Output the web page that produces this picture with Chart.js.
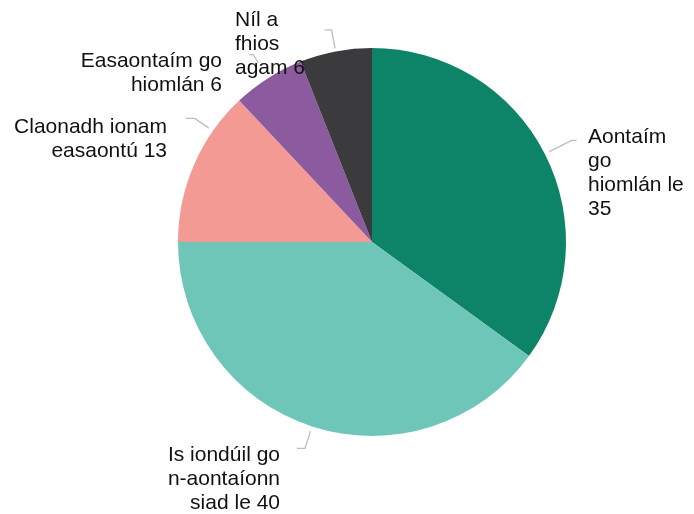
<!DOCTYPE HTML>
<html>
<head>
    <meta charset="utf-8">
    <script src="https://cdn.jsdelivr.net/npm/chart.js"></script>
    <style>
        body {
            margin: 0;
            background: white;
        }
        .chart-container {
            position: relative;
            width: 694px;
            height: 514px;
        }
    </style>
</head>
<body>
    <div class="chart-container">
        <canvas id="pieChart"></canvas>
    </div>

    <script>
        const categories = [
            'Aontaím go hiomlán le',
            'Is iondúil go n-aontaíonn siad le',
            'Claonadh ionam easaontú',
            'Easaontaím go hiomlán',
            'Níl a fhios agam'
        ];
        const values = [35, 40, 13, 6, 6];
        const colors = ['#0d8468', '#6ec6b8', '#f49a94', '#8c5a9e', '#3b3b3d'];

        // how each data label is broken into lines (word counts per line)
        const wrapCounts = [[1, 1, 2, 1], [3, 1, 3], [2, 2], [2, 2], [2, 1, 2]];

        // label placement, Excel-like: leader from arc edge outwards, then a short tick
        const labelLayout = [
            { angleShift: 0,    r1: 5,  r2: 30, tick: 5,  x: 588, y: 143, align: 'left' },
            { angleShift: 0,    r1: 5,  r2: 23, tick: -8, x: 280, y: 461, align: 'right' },
            { angleShift: 11.5, r1: 5,  r2: 22, tick: -9, x: 167, y: 133, align: 'right' },
            { angleShift: 0,    r1: 18, r2: 28, tick: -4, x: 222, y: 67,  align: 'right' },
            { angleShift: 0,    r1: 3,  r2: 22, tick: -7, x: 235, y: 26,  align: 'left' }
        ];

        function labelLines(i) {
            const words = (categories[i] + ' ' + values[i]).split(' ');
            const lines = [];
            let k = 0;
            wrapCounts[i].forEach(n => {
                lines.push(words.slice(k, k + n).join(' '));
                k += n;
            });
            return lines;
        }

        const outsideLabels = {
            id: 'outsideLabels',
            afterDatasetsDraw(chart) {
                const ctx = chart.ctx;
                const meta = chart.getDatasetMeta(0);
                ctx.save();
                meta.data.forEach((arc, i) => {
                    const lay = labelLayout[i];
                    const a = (arc.startAngle + arc.endAngle) / 2 + lay.angleShift * Math.PI / 180;
                    const r = arc.outerRadius;
                    const x1 = arc.x + Math.cos(a) * (r + lay.r1);
                    const y1 = arc.y + Math.sin(a) * (r + lay.r1);
                    const x2 = arc.x + Math.cos(a) * (r + lay.r2);
                    const y2 = arc.y + Math.sin(a) * (r + lay.r2);
                    ctx.strokeStyle = '#bdbdbd';
                    ctx.lineWidth = 1.3;
                    ctx.beginPath();
                    ctx.moveTo(x1, y1);
                    ctx.lineTo(x2, y2);
                    ctx.lineTo(x2 + lay.tick, y2);
                    ctx.stroke();

                    ctx.fillStyle = '#111';
                    ctx.font = '21px "Liberation Sans", Arial, sans-serif';
                    ctx.textAlign = lay.align;
                    ctx.textBaseline = 'alphabetic';
                    labelLines(i).forEach((line, j) => {
                        ctx.fillText(line, lay.x, lay.y + j * 24);
                    });
                });
                ctx.restore();
            }
        };

        const pieCtx = document.getElementById('pieChart').getContext('2d');
        const pieChart = new Chart(pieCtx, {
            type: 'pie',
            data: {
                labels: categories,
                datasets: [{
                    data: values,
                    backgroundColor: colors,
                    borderWidth: 0
                }]
            },
            options: {
                responsive: true,
                maintainAspectRatio: false,
                animation: false,
                layout: {
                    padding: { left: 178, right: 128, top: 48, bottom: 78 }
                },
                plugins: {
                    legend: { display: false },
                    tooltip: { enabled: false }
                }
            },
            plugins: [outsideLabels]
        });
    </script>
</body>
</html>
